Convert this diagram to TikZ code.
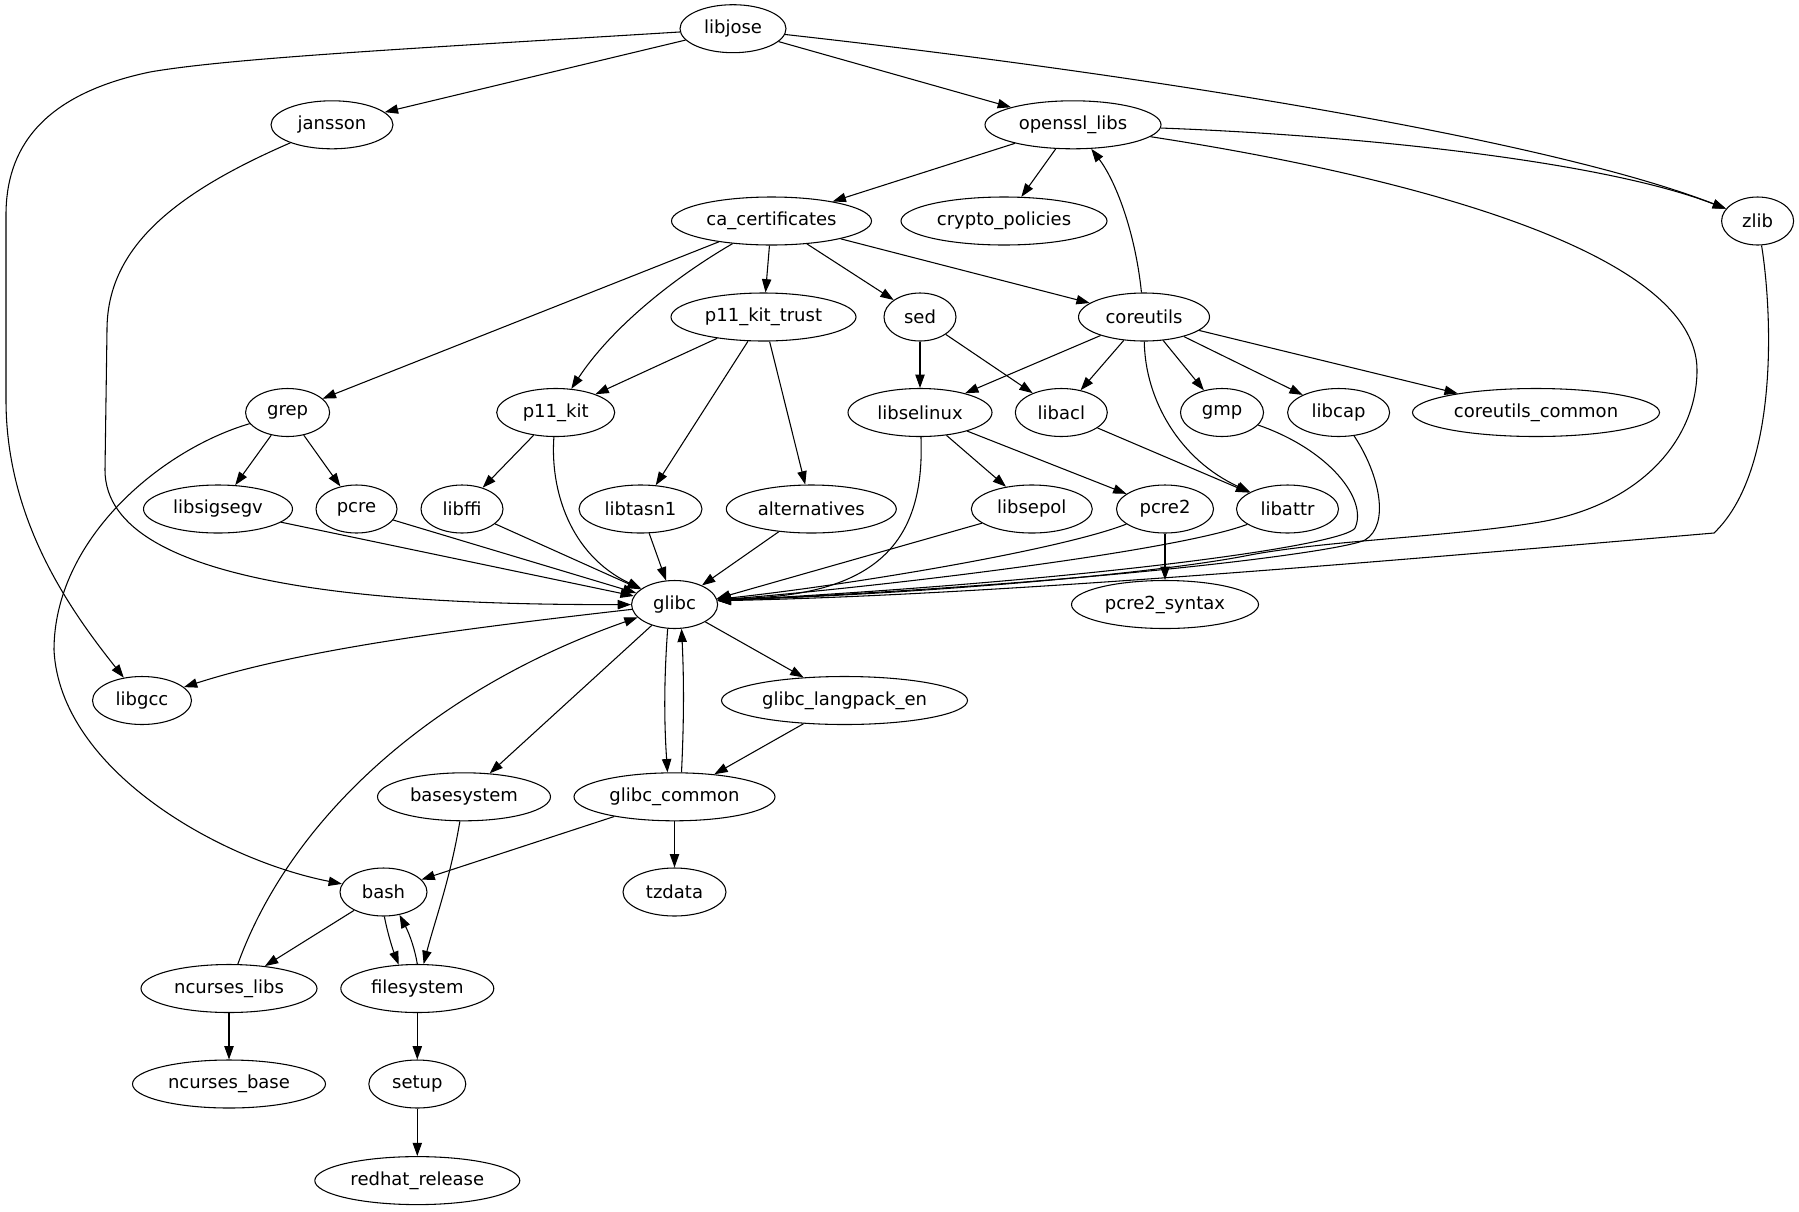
\documentclass[tikz,border=0pt]{standalone}
\usepackage{fontspec}
\setmainfont{DejaVu Sans}
\usetikzlibrary{shapes.geometric,arrows.meta}
\begin{document}
\begin{tikzpicture}[x=0.75pt,y=-0.75pt,
  pkg/.style={ellipse,draw,line width=0.8pt,minimum height=36pt,inner sep=0pt,font=\fontsize{13.5}{16}\selectfont},
  dep/.style={line width=0.8pt,-{Triangle[length=10pt,width=7pt]}}]
\useasboundingbox (0,0) rectangle (1799,1211);
% rank 0
\node[pkg,minimum width=79.5pt] (libjose) at (733,28.7) {libjose};
% rank 1
\node[pkg,minimum width=91.5pt] (jansson) at (332,124.8) {jansson};
\node[pkg,minimum width=132pt] (openssl) at (1073,124.8) {openssl\_libs};
% rank 2
\node[pkg,minimum width=150pt] (cacert) at (771.5,221) {ca\_certificates};
\node[pkg,minimum width=154.5pt] (crypto) at (1004,221) {crypto\_policies};
\node[pkg,minimum width=54pt] (zlib) at (1757.6,221) {zlib};
% rank 3
\node[pkg,minimum width=138.75pt] (p11trust) at (763.5,317) {p11\_kit\_trust};
\node[pkg,minimum width=54pt] (sed) at (920,317) {sed};
\node[pkg,minimum width=98.25pt] (coreutils) at (1144,317) {coreutils};
% rank 4
\node[pkg,minimum width=63pt] (grep) at (287.6,412.5) {grep};
\node[pkg,minimum width=88.5pt] (p11kit) at (555.7,412.5) {p11\_kit};
\node[pkg,minimum width=108pt] (libselinux) at (920,412.5) {libselinux};
\node[pkg,minimum width=69pt] (libacl) at (1061.3,412.5) {libacl};
\node[pkg,minimum width=62.25pt] (gmp) at (1222,412.5) {gmp};
\node[pkg,minimum width=76.5pt] (libcap) at (1338.6,412.5) {libcap};
\node[pkg,minimum width=185.25pt] (cucommon) at (1536,412.5) {coreutils\_common};
% rank 5
\node[pkg,minimum width=111.75pt] (libsigsegv) at (218,509) {libsigsegv};
\node[pkg,minimum width=60.75pt] (pcre) at (356.5,509) {pcre};
\node[pkg,minimum width=61.5pt] (libffi) at (462,509) {libffi};
\node[pkg,minimum width=92.25pt] (libtasn1) at (640.5,509) {libtasn1};
\node[pkg,minimum width=127.5pt] (alternatives) at (811.3,509) {alternatives};
\node[pkg,minimum width=90.75pt] (libsepol) at (1031.8,509) {libsepol};
\node[pkg,minimum width=72.75pt] (pcre2) at (1165,509) {pcre2};
\node[pkg,minimum width=76.5pt] (libattr) at (1287.5,509) {libattr};
% rank 6
\node[pkg,minimum width=64.5pt] (glibc) at (674.6,604.5) {glibc};
\node[pkg,minimum width=140.25pt] (pcre2syntax) at (1165,604.5) {pcre2\_syntax};
% rank 7
\node[pkg,minimum width=74.25pt] (libgcc) at (142,700.5) {libgcc};
\node[pkg,minimum width=184.5pt] (langpack) at (844.5,700.5) {glibc\_langpack\_en};
% rank 8
\node[pkg,minimum width=129.75pt] (basesystem) at (464,796.8) {basesystem};
\node[pkg,minimum width=150.75pt] (gcommon) at (674.5,796.8) {glibc\_common};
% rank 9
\node[pkg,minimum width=65.25pt] (bash) at (383.5,892) {bash};
\node[pkg,minimum width=77.25pt] (tzdata) at (674.5,892) {tzdata};
% rank 10
\node[pkg,minimum width=132pt] (ncurseslibs) at (229,988.5) {ncurses\_libs};
\node[pkg,minimum width=114.75pt] (filesystem) at (417.3,988.5) {filesystem};
% rank 11
\node[pkg,minimum width=144.75pt] (ncursesbase) at (229,1084) {ncurses\_base};
\node[pkg,minimum width=72.75pt] (setup) at (417.3,1084) {setup};
% rank 12
\node[pkg,minimum width=153.75pt] (redhat) at (417.3,1180.6) {redhat\_release};

% edges
\draw[dep] (libjose) -- (jansson);
\draw[dep] (libjose) -- (openssl);
\draw[dep] (libjose) .. controls (1150,75) and (1550,140) .. (zlib);
\draw[dep] (libjose) .. controls (420,48) and (230,58) .. (150,72) .. controls (40,95) and (6,150) .. (6,215) -- (6,400) .. controls (6,520) and (70,610) .. (libgcc);
\draw[dep] (jansson) .. controls (170,195) and (107,250) .. (107,330) -- (105,470) .. controls (105,590) and (400,605) .. (glibc);
\draw[dep] (openssl) -- (cacert);
\draw[dep] (openssl) -- (crypto);
\draw[dep] (openssl) .. controls (1350,135) and (1600,160) .. (zlib);
\draw[dep] (openssl) .. controls (1400,175) and (1697,250) .. (1697,370) .. controls (1697,440) and (1640,505) .. (1540,522) .. controls (1450,537) and (1330,540) .. (1250,555) .. controls (1150,575) and (900,595) .. (glibc.6);
\draw[dep] (zlib) .. controls (1772,310) and (1780,470) .. (1714,533) .. controls (1400,560) and (1000,595) .. (glibc.5);
\draw[dep] (cacert) -- (grep);
\draw[dep] (cacert) .. controls (670,280) and (610,330) .. (p11kit);
\draw[dep] (cacert) -- (p11trust);
\draw[dep] (cacert) -- (sed);
\draw[dep] (cacert) -- (coreutils);
\draw[dep] (p11trust) -- (p11kit);
\draw[dep] (p11trust) -- (libtasn1);
\draw[dep] (p11trust) -- (alternatives);
\draw[dep] (sed) -- (libselinux);
\draw[dep] (sed) -- (libacl);
\draw[dep] (coreutils) .. controls (1135,230) and (1115,180) .. (openssl);
\draw[dep] (coreutils) -- (libselinux);
\draw[dep] (coreutils) -- (libacl);
\draw[dep] (coreutils) .. controls (1145,400) and (1180,460) .. (libattr);
\draw[dep] (coreutils) -- (gmp);
\draw[dep] (coreutils) -- (libcap);
\draw[dep] (coreutils) -- (cucommon);
\draw[dep] (grep) -- (libsigsegv);
\draw[dep] (grep) -- (pcre);
\draw[dep] (grep) .. controls (160,450) and (54,540) .. (54,650) .. controls (60,770) and (220,860) .. (bash);
\draw[dep] (p11kit) -- (libffi);
\draw[dep] (p11kit) .. controls (550,490) and (570,555) .. (glibc);
\draw[dep] (libselinux) -- (libsepol);
\draw[dep] (libselinux) -- (pcre2);
\draw[dep] (libselinux) .. controls (925,540) and (880,598) .. (glibc.8);
\draw[dep] (libacl) -- (libattr);
\draw[dep] (gmp) .. controls (1330,450) and (1368,500) .. (1355,528) .. controls (1345,545) and (1100,580) .. (glibc.5);
\draw[dep] (libcap) .. controls (1380,475) and (1390,525) .. (1365,540) .. controls (1340,552) and (1100,583) .. (glibc.5);
\draw[dep] (libsigsegv) -- (glibc);
\draw[dep] (pcre) -- (glibc);
\draw[dep] (libffi) -- (glibc);
\draw[dep] (libtasn1) -- (glibc);
\draw[dep] (alternatives) -- (glibc);
\draw[dep] (libsepol) -- (glibc.8);
\draw[dep] (pcre2) .. controls (1060,550) and (850,585) .. (glibc.7);
\draw[dep] (pcre2) -- (pcre2syntax);
\draw[dep] (libattr) .. controls (1180,550) and (900,585) .. (glibc.6);
\draw[dep] (glibc) .. controls (450,630) and (300,650) .. (libgcc);
\draw[dep] (glibc) -- (langpack);
\draw[dep] (glibc) -- (basesystem);
\draw[dep] (glibc.-106) .. controls (664,680) and (664,720) .. (gcommon.106);
\draw[dep] (gcommon.74) .. controls (684,720) and (684,680) .. (glibc.-74);
\draw[dep] (langpack) -- (gcommon);
\draw[dep] (gcommon) -- (bash);
\draw[dep] (gcommon) -- (tzdata);
\draw[dep] (basesystem) .. controls (450,880) and (435,920) .. (filesystem);
\draw[dep] (bash) -- (ncurseslibs);
\draw[dep] (bash.-88) .. controls (388,935) and (393,950) .. (filesystem.128);
\draw[dep] (filesystem.90) .. controls (415,950) and (410,935) .. (bash.-55);
\draw[dep] (ncurseslibs) .. controls (290,820) and (430,690) .. (glibc);
\draw[dep] (ncurseslibs) -- (ncursesbase);
\draw[dep] (filesystem) -- (setup);
\draw[dep] (setup) -- (redhat);
\end{tikzpicture}
\end{document}
